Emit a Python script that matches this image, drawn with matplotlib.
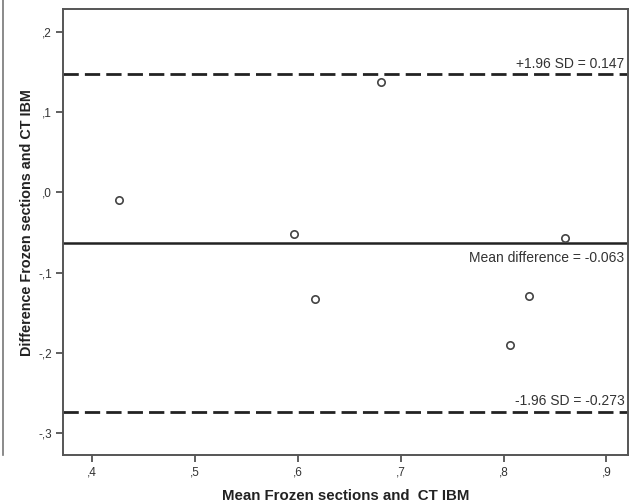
import matplotlib

matplotlib.use("Agg")
import matplotlib.pyplot as plt
from matplotlib.lines import Line2D
from matplotlib.ticker import FuncFormatter

# Bland-Altman data
mean_vals = [0.426, 0.596, 0.617, 0.681, 0.806, 0.825, 0.860]
diff_vals = [-0.010, -0.052, -0.133, 0.137, -0.190, -0.129, -0.057]

mean_diff = -0.063
upper_loa = 0.147
lower_loa = -0.273

x_ticks = [0.4, 0.5, 0.6, 0.7, 0.8, 0.9]
y_ticks = [0.2, 0.1, 0.0, -0.1, -0.2, -0.3]

GREY = "#444444"


def comma_fmt(value, _pos):
    text = f"{value:.1f}".replace("0.", ".").replace(".", ",")
    if text == "-,0":
        text = ",0"
    return text


def main() -> None:
    plt.rcParams["font.family"] = ["Liberation Sans", "DejaVu Sans"]
    fig = plt.figure(figsize=(6.29, 5.03), dpi=100)
    ax = fig.add_axes([63 / 629, 1 - 455 / 503, 565 / 629, 446 / 503])

    ax.scatter(mean_vals, diff_vals, s=28, facecolors="white", edgecolors=GREY,
               linewidths=1.2, zorder=3)

    ax.axhline(upper_loa, color="#222222", lw=2.0, ls=(0, (5.5, 2.2)))
    ax.axhline(lower_loa, color="#222222", lw=2.0, ls=(0, (5.5, 2.2)))
    ax.axhline(mean_diff, color="#222222", lw=1.8)

    ax.set_xlim(0.3718, 0.921)
    ax.set_ylim(-0.327, 0.2283)
    ax.set_xticks(x_ticks)
    ax.set_yticks(y_ticks)
    ax.xaxis.set_major_formatter(FuncFormatter(comma_fmt))
    ax.yaxis.set_major_formatter(FuncFormatter(comma_fmt))
    ax.tick_params(direction="out", length=5, width=1.2, color=GREY,
                   labelsize=8.5, labelcolor="#333333", pad=3)

    for side in ax.spines.values():
        side.set_color("#555555")
        side.set_linewidth(1.4)

    tx = 0.9175
    ax.text(tx, upper_loa + 0.004, f"+1.96 SD = {upper_loa:.3f}", ha="right",
            va="bottom", fontsize=10, color="#333333")
    ax.text(tx, mean_diff - 0.010, f"Mean difference = {mean_diff:.3f}",
            ha="right", va="top", fontsize=10, color="#333333")
    ax.text(tx, lower_loa + 0.004, f"-1.96 SD = {lower_loa:.3f}", ha="right",
            va="bottom", fontsize=10, color="#333333")

    ax.set_xlabel("Mean Frozen sections and  CT IBM", fontsize=10.8,
                  fontweight="bold", color="#222222", labelpad=8)
    ax.set_ylabel("Difference Frozen sections and CT IBM", fontsize=10.4,
                  fontweight="bold", color="#222222")
    ax.yaxis.set_label_coords(-0.052, 0.522)

    # edge of the neighbouring panel left in the crop
    fig.add_artist(Line2D([3 / 629, 3 / 629], [1 - 455 / 503, 1.0],
                          transform=fig.transFigure, color="#777777", lw=1.2))

    fig.savefig("out.png", dpi=100)
    plt.close(fig)


if __name__ == "__main__":
    main()
